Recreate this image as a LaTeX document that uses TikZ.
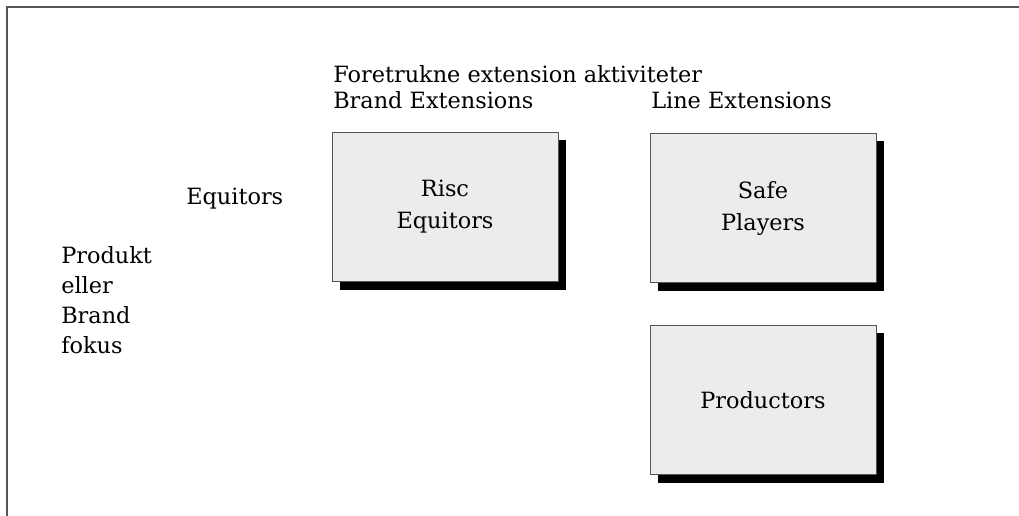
\documentclass[tikz,border=0pt]{standalone}
\usepackage{fontspec}
\setmainfont{DejaVu Serif}
\usetikzlibrary{
	shadows,
	positioning
}
\definecolor{BoxGray}{RGB}{236,236,236}
\definecolor{FrameGray}{RGB}{85,85,85}

\begin{document}
\begin{tikzpicture}[x=0.75pt,y=-0.75pt,
		every node/.style={font=\fontsize{16.8}{22.5}\selectfont},
		tekst/.style={anchor=base west,inner sep=0pt,align=left},
		felt/.style={draw=FrameGray,fill=BoxGray,thin,align=center,
			font=\fontsize{16.8}{24}\selectfont,
			minimum width=169.5pt,minimum height=112pt,
			drop shadow={shadow xshift=6pt,shadow yshift=-6pt,fill=black,opacity=1}}]
		\useasboundingbox (0,0) rectangle (1019,516);
		
		% ramme (kun top og venstre side)
		\draw[FrameGray,line width=1.5pt] (7,516) -- (7,7) -- (1019,7);
		
		% overskrifter
		\node[tekst] (titel) at (333,83) {Foretrukne extension aktiviteter};
		\node[tekst] (brandext) at (333,109) {Brand Extensions};
		\node[tekst] (lineext) at (651,109) {Line Extensions};
		
		% akse-tekster (base = sidste linje)
		\node[tekst] (equitors) at (186,205) {Equitors};
		\node[tekst] (fokus) at (61,353) {Produkt\\eller\\Brand\\fokus};
		
		% felter
		\node[felt] (risc) at (445,207) {Risc\\Equitors};
		\node[felt] (safe) at (763,208) {Safe\\Players};
		\node[felt,below=31.5pt of safe] (prod) {Productors};
	\end{tikzpicture}
\end{document}
